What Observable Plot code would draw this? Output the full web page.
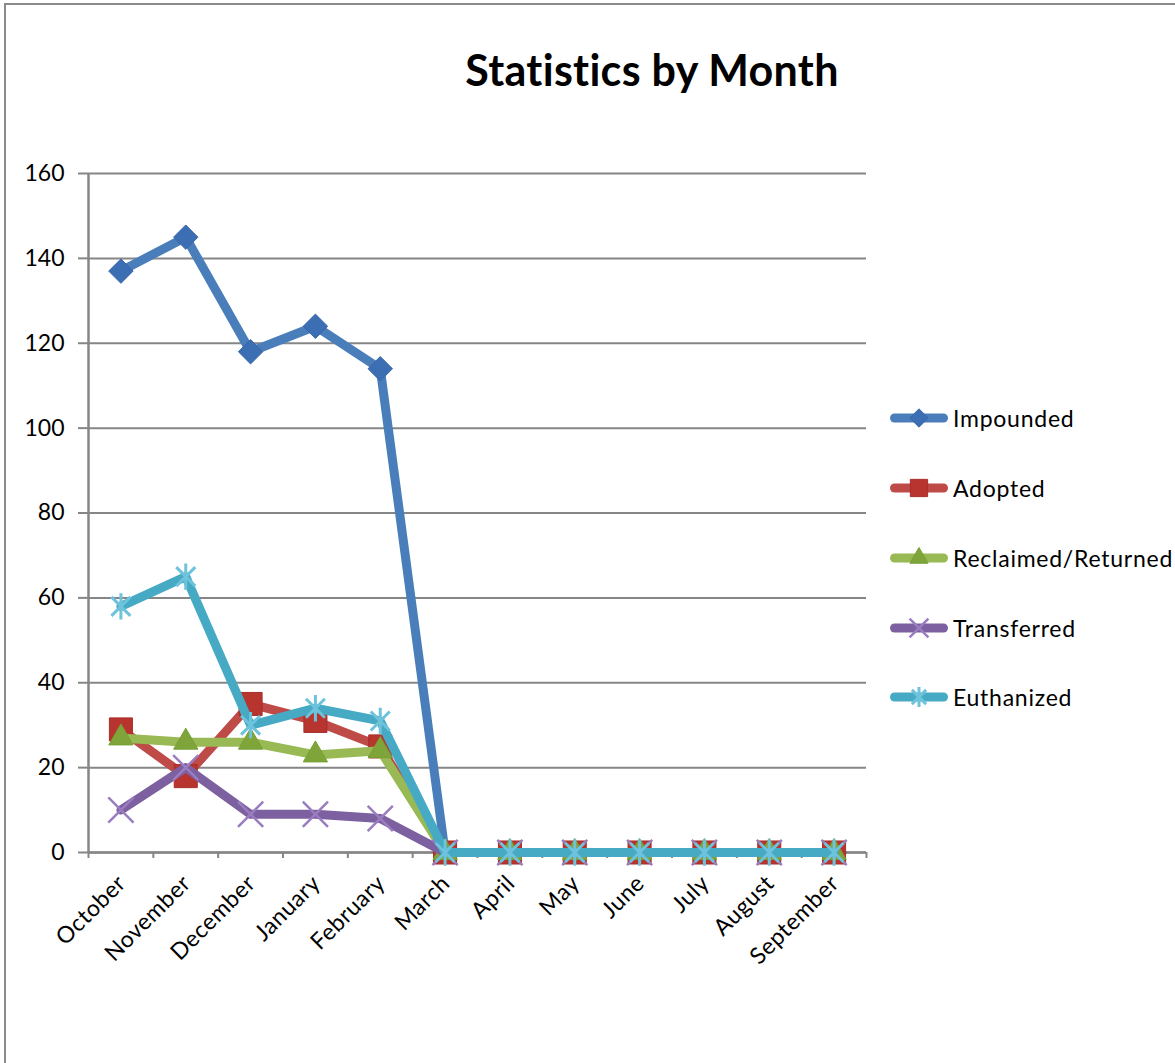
<!DOCTYPE html>
<html>
<head>
<meta charset="utf-8">
<script src="https://cdn.jsdelivr.net/npm/d3@7"></script>
<script src="https://cdn.jsdelivr.net/npm/@observablehq/plot@0.6"></script>
<style>
  body { margin: 0; background: #fff; }
  #wrap { position: relative; width: 1175px; height: 1063px; overflow: hidden; font-family: Lato, "Noto Sans", sans-serif; }
  #frame { position: absolute; left: 4px; top: 3px; width: 1300px; height: 1200px; border-left: 2px solid #8a8a8a; border-top: 2px solid #8a8a8a; }
  #chart { position: absolute; left: 0; top: 0; }
  #chart svg text.mlabel, #chart svg g.mlabel text { letter-spacing: 0.5px; }
  #title { position: absolute; left: 352px; width: 600px; top: 42px; text-align: center; font-size: 43px; font-weight: 700; line-height: 56px; color: #000; letter-spacing: 0.3px; }
  .lg { position: absolute; left: 885px; height: 30px; display: flex; align-items: center; font-size: 23px; color: #000; white-space: nowrap; letter-spacing: 0.75px; }
  .lg svg { display: block; }
</style>
</head>
<body>
<div id="wrap">
  <div id="frame"></div>
  <div id="chart"></div>
  <div id="title">Statistics by Month</div>
</div>
<script>
// ---- data ----
const months = ["October", "November", "December", "January", "February", "March", "April", "May", "June", "July", "August", "September"];
const seriesNames = ["Impounded", "Adopted", "Reclaimed/Returned", "Transferred", "Euthanized"];
const impounded   = [137, 145, 118, 124, 114, 0, 0, 0, 0, 0, 0, 0];
const adopted     = [29, 18, 35, 31, 25, 0, 0, 0, 0, 0, 0, 0];
const reclaimed   = [27, 26, 26, 23, 24, 0, 0, 0, 0, 0, 0, 0];
const transferred = [10, 20, 9, 9, 8, 0, 0, 0, 0, 0, 0, 0];
const euthanized  = [58, 65, 30, 34, 31, 0, 0, 0, 0, 0, 0, 0];
const yTicks = [0, 20, 40, 60, 80, 100, 120, 140, 160];

// ---- styles ----
const excelStar = {
  draw(ctx, size) {
    const r = Math.sqrt(size) * 0.62;
    const d = r * 0.72;
    ctx.moveTo(0, -r); ctx.lineTo(0, r);
    ctx.moveTo(-d, -d); ctx.lineTo(d, d);
    ctx.moveTo(-d, d); ctx.lineTo(d, -d);
  }
};
const styles = [
  {line: "#4A7EBB", symbol: "diamond2", r: 11,   fill: "#3C6EB4", stroke: "#3766a8", sw: 1},
  {line: "#BE4B48", symbol: "square",   r: 13,   fill: "#B8342F", stroke: "#a82e2a", sw: 1},
  {line: "#98B954", symbol: "triangle", r: 9,    fill: "#7FA53A", stroke: "#76a033", sw: 1},
  {line: "#7D60A0", symbol: "times",    r: 11.5, fill: "none",    stroke: "#9A7DC0", sw: 2.5},
  {line: "#46AAC5", symbol: excelStar,  r: 12,   fill: "none",    stroke: "#6DC3DB", sw: 3}
];
const allValues = [impounded, adopted, reclaimed, transferred, euthanized];

const marks = [
  Plot.gridY(yTicks, {stroke: "#868686", strokeOpacity: 1, strokeWidth: 2}),
  Plot.axisY(yTicks, {label: null, tickSize: 10, tickPadding: 14, fontSize: 23, stroke: "#868686", strokeWidth: 2, fill: "#000", tickFormat: d => d}),
  Plot.ruleX([0], {stroke: "#868686", strokeWidth: 2.5}),
  Plot.ruleY([0], {stroke: "#868686", strokeWidth: 2.5}),
  Plot.axisX(d3.range(0, 13), {label: null, tickSize: 6, stroke: "#868686", strokeWidth: 2, tickFormat: () => ""}),
  Plot.text(months, {x: (d, i) => i + 0.5, frameAnchor: "bottom", text: d => d, rotate: -45, textAnchor: "end", lineAnchor: "middle", dx: 1, dy: 27, fontSize: 23, fill: "#000", className: "mlabel"})
];

allValues.forEach((vals, k) => {
  const st = styles[k];
  const rows = vals.map((v, i) => ({x: i + 0.5, y: v}));
  marks.push(Plot.line(rows, {x: "x", y: "y", stroke: st.line, strokeWidth: 9, strokeLinejoin: "round", strokeLinecap: "round"}));
  marks.push(Plot.dot(rows, {x: "x", y: "y", symbol: st.symbol, r: st.r, fill: st.fill, stroke: st.stroke, strokeWidth: st.sw}));
});

const chart = Plot.plot({
  width: 1175,
  height: 1063,
  marginLeft: 88,
  marginRight: 309,
  marginTop: 173,
  marginBottom: 211,
  style: {fontFamily: "Lato, 'Noto Sans', sans-serif", background: "transparent", overflow: "visible"},
  x: {domain: [0, 12], axis: null},
  y: {domain: [0, 160], axis: null},
  marks
});
document.getElementById("chart").appendChild(chart);

// ---- legend ----
const legendTops = [418, 488, 558, 628, 697];
const symMap = {diamond2: d3.symbolDiamond2, square: d3.symbolSquare, triangle: d3.symbolTriangle, times: d3.symbolTimes};
seriesNames.forEach((name, k) => {
  const st = styles[k];
  const div = d3.select("#wrap").append("div").attr("class", "lg").style("top", (legendTops[k] - 15) + "px");
  const svg = div.append("svg").attr("width", 66).attr("height", 30);
  svg.append("line").attr("x1", 9.5).attr("x2", 58.5).attr("y1", 15).attr("y2", 15)
     .attr("stroke", st.line).attr("stroke-width", 9).attr("stroke-linecap", "round");
  const rr = st.r * 0.75;
  const type = typeof st.symbol === "string" ? symMap[st.symbol] : st.symbol;
  svg.append("path").attr("transform", "translate(34,15)")
     .attr("d", d3.symbol(type, Math.PI * rr * rr)())
     .attr("fill", st.fill).attr("stroke", st.stroke).attr("stroke-width", st.sw);
  div.append("span").text(name).style("margin-left", "2px");
});
</script>
</body>
</html>
